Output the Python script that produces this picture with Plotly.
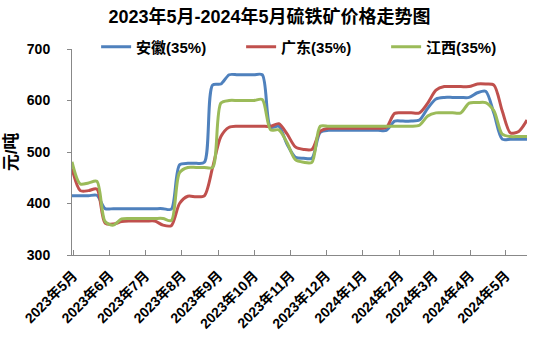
import pandas as pd
import plotly.graph_objects as go

# Weekly sampling dates for the price series
dates = pd.date_range("2023-04-30", periods=56, freq="7D")

anhui = [415, 415, 415, 416, 390, 390, 390, 390, 390, 390, 390, 390, 389, 475,
         478, 478, 480, 630, 632, 650, 650, 650, 650, 650, 548, 550, 515, 490,
         488, 488, 538, 542, 542, 542, 542, 542, 542, 542, 542, 560, 560, 560,
         562, 585, 603, 606, 606, 606, 606, 615, 618, 575, 525, 525, 525, 525]

guangdong = [468, 425, 425, 428, 362, 360, 365, 366, 366, 366, 366, 358, 357, 400,
             414, 413, 415, 470, 530, 548, 550, 550, 550, 550, 550, 555, 535, 510,
             505, 505, 540, 546, 546, 546, 546, 546, 546, 546, 548, 575, 576, 576,
             576, 595, 620, 627, 627, 627, 627, 632, 632, 630, 580, 537, 540, 562]

jiangxi = [481, 438, 440, 443, 365, 358, 370, 371, 371, 371, 371, 371, 367, 460,
           470, 470, 470, 470, 595, 600, 600, 600, 600, 602, 543, 543, 518, 485,
           480, 480, 550, 550, 550, 550, 550, 550, 550, 550, 550, 550, 550, 550,
           552, 570, 576, 576, 576, 576, 595, 596, 596, 580, 535, 530, 530, 530]

series = [
    ("安徽(35%)", anhui, "#4F81BD"),
    ("广东(35%)", guangdong, "#C0504D"),
    ("江西(35%)", jiangxi, "#9BBB59"),
]

title_text = "2023年5月-2024年5月硫铁矿价格走势图"
y_title = "元/吨"
y_ticks = [300, 400, 500, 600, 700]

font_family = "Liberation Sans, Noto Sans CJK SC, sans-serif"

fig = go.Figure()
for name, vals, color in series:
    fig.add_trace(go.Scatter(
        x=dates, y=vals, name="<b>" + name + "</b>", mode="lines",
        line=dict(color=color, width=3, shape="spline", smoothing=0.8),
    ))

fig.update_layout(
    width=549, height=340,
    margin=dict(l=72, r=22, t=49, b=85),
    paper_bgcolor="white", plot_bgcolor="white",
    font=dict(family=font_family, color="black"),
    title=dict(text="<b>" + title_text + "</b>", x=0.491, xanchor="center",
               y=0.95, yanchor="middle", font=dict(size=18, color="black")),
    legend=dict(orientation="h", x=0.053, xanchor="left", y=1.01, yanchor="middle",
                bgcolor="rgba(0,0,0,0)", font=dict(size=15, color="black"),
                itemwidth=30, tracegroupgap=0,
                entrywidth=100, entrywidthmode="pixels"),
    showlegend=True,
)

fig.update_xaxes(
    type="date",
    range=[dates[0], dates[-1]],
    tickmode="linear", tick0="2023-05-01", dtick="M1",
    tickformat="<b>%Y年%-m月</b>", tickangle=-45,
    tickfont=dict(size=14, color="black"),
    ticklabelstandoff=6, automargin=False,
    showline=True, linecolor="#888888", linewidth=1,
    ticks="inside", ticklen=5, tickcolor="#888888",
    showgrid=False, zeroline=False,
)

fig.update_yaxes(
    range=[300, 700],
    tickvals=y_ticks, ticktext=["<b>%d</b>" % v for v in y_ticks],
    tickfont=dict(size=14, color="black"),
    ticklabelstandoff=14, automargin=False,
    showline=True, linecolor="#888888", linewidth=1,
    ticks="outside", ticklen=4, tickcolor="#888888",
    showgrid=False, zeroline=False,
    title=dict(text="<b>" + y_title + "</b>", font=dict(size=17, color="black"), standoff=4),
)

fig.write_html("out.html")
